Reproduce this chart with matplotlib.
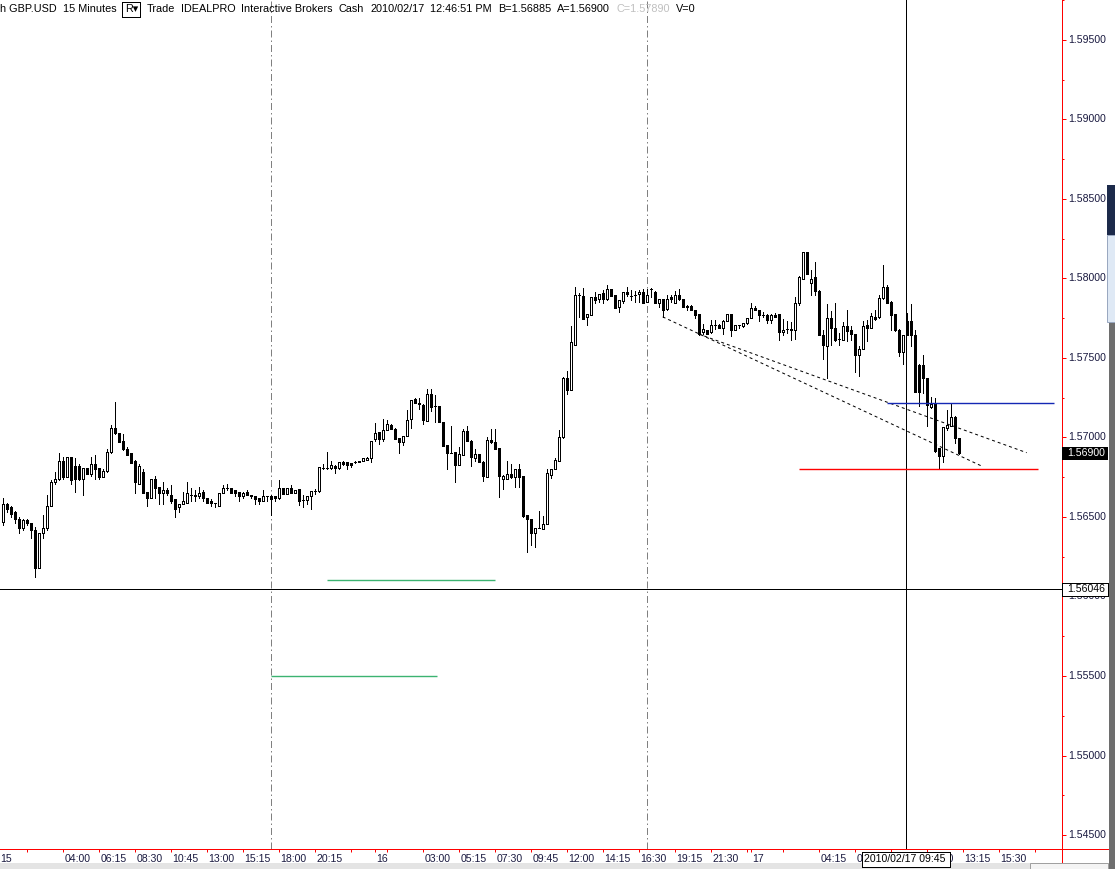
import matplotlib
matplotlib.use("Agg")
import matplotlib.pyplot as plt
from matplotlib.patches import Rectangle
from matplotlib.collections import PatchCollection
from matplotlib.lines import Line2D
import matplotlib.transforms as mtransforms

plt.rcParams['font.family'] = ['Liberation Sans', 'DejaVu Sans']

# ---------------- data (GBP.USD, 15-minute bars) ----------------
OPEN = [
    1.5647, 1.5658, 1.5656, 1.5653, 1.5649, 1.5643, 1.5648, 1.5646, 1.5642, 1.5618,
    1.5640, 1.5643, 1.5657, 1.5672, 1.5674, 1.5685, 1.5675, 1.5688, 1.5682, 1.5682,
    1.5674, 1.5681, 1.5677, 1.5683, 1.5681, 1.5675, 1.5679, 1.5691, 1.5706, 1.5703,
    1.5698, 1.5693, 1.5690, 1.5685, 1.5671, 1.5678, 1.5666, 1.5662, 1.5674, 1.5669,
    1.5665, 1.5667, 1.5664, 1.5661, 1.5656, 1.5658, 1.5659, 1.5664, 1.5663, 1.5663,
    1.5666, 1.5662, 1.5660, 1.5659, 1.5657, 1.5665, 1.5668, 1.5668, 1.5667, 1.5666,
    1.5663, 1.5666, 1.5664, 1.5663, 1.5662, 1.5660, 1.5663, 1.5663, 1.5663, 1.5662,
    1.56681, 1.56646, 1.56681, 1.56652, 1.56673, 1.56608, 1.56608, 1.56629, 1.56662, 1.56662,
    1.56808, 1.56808, 1.56808, 1.56823, 1.56808, 1.56844, 1.56844, 1.56839, 1.56848, 1.56852,
    1.56854, 1.56858, 1.56871, 1.56989, 1.57031, 1.56989, 1.57048, 1.57081, 1.57056, 1.56996,
    1.56973, 1.57010, 1.57114, 1.57239, 1.57208, 1.57206, 1.57104, 1.57273, 1.57196, 1.57198,
    1.57098, 1.56952, 1.56902, 1.56906, 1.56827, 1.56891, 1.57041, 1.56979, 1.56871, 1.56896,
    1.56848, 1.56752, 1.56985, 1.56973, 1.56931, 1.56739, 1.56739, 1.56769, 1.56752, 1.56802,
    1.56756, 1.56510, 1.56485, 1.56402, 1.56431, 1.56427, 1.56458, 1.56766, 1.56802, 1.56854,
    1.57000, 1.57375, 1.57298, 1.57583, 1.57894, 1.57889, 1.57754, 1.57771, 1.57881, 1.57869,
    1.57906, 1.57869, 1.57931, 1.57896, 1.57823, 1.57860, 1.57916, 1.57891, 1.57898, 1.57900,
    1.57916, 1.57852, 1.57931, 1.57916, 1.57848, 1.57869, 1.57806, 1.57881, 1.57848, 1.57896,
    1.57869, 1.57829, 1.57825, 1.57802, 1.57775, 1.57660, 1.57673, 1.57660, 1.57704, 1.57708,
    1.57687, 1.57735, 1.57775, 1.57677, 1.57704, 1.57698, 1.57719, 1.57750, 1.57816, 1.57798,
    1.57771, 1.57771, 1.57739, 1.57771, 1.57775, 1.57660, 1.57683, 1.57681, 1.57677, 1.57848,
    1.57996, 1.58166, 1.57973, 1.58006, 1.57923, 1.57646, 1.57573, 1.57750, 1.57687, 1.57619,
    1.57614, 1.57698, 1.57673, 1.57650, 1.57521, 1.57558, 1.57708, 1.57691, 1.57760, 1.57754,
    1.57875, 1.57944, 1.57854, 1.57775, 1.57677, 1.57535, 1.57729, 1.57735, 1.57646, 1.57454,
    1.57454, 1.57371, 1.57194, 1.57212, 1.56931, 1.56885, 1.57062, 1.57073, 1.57131, 1.56996,
]
HIGH = [
    1.5662, 1.5659, 1.5657, 1.5654, 1.5650, 1.5649, 1.5649, 1.5646, 1.5644, 1.5640,
    1.5651, 1.5664, 1.5673, 1.5678, 1.5690, 1.5688, 1.5688, 1.5688, 1.5687, 1.5683,
    1.5681, 1.5681, 1.5688, 1.5689, 1.5681, 1.5680, 1.5693, 1.5708, 1.5722, 1.5703,
    1.5702, 1.5694, 1.5690, 1.5686, 1.5683, 1.5680, 1.5666, 1.5674, 1.5676, 1.5669,
    1.5672, 1.5668, 1.5670, 1.5661, 1.5658, 1.5666, 1.5672, 1.5668, 1.5667, 1.5669,
    1.5667, 1.5662, 1.5661, 1.5659, 1.5665, 1.5670, 1.5671, 1.5668, 1.5667, 1.5666,
    1.5666, 1.5667, 1.5664, 1.5663, 1.5662, 1.5667, 1.5663, 1.5664, 1.5663, 1.5673,
    1.56685, 1.56685, 1.56698, 1.56672, 1.56675, 1.56635, 1.56630, 1.56662, 1.56677, 1.56816,
    1.56831, 1.56906, 1.56854, 1.56825, 1.56848, 1.56854, 1.56846, 1.56842, 1.56854, 1.56854,
    1.56870, 1.56875, 1.56980, 1.57091, 1.57033, 1.57114, 1.57110, 1.57085, 1.57058, 1.56998,
    1.57012, 1.57173, 1.57236, 1.57250, 1.57250, 1.57208, 1.57306, 1.57306, 1.57264, 1.57200,
    1.57100, 1.56954, 1.57073, 1.56908, 1.56937, 1.57052, 1.57069, 1.56981, 1.56927, 1.56898,
    1.56850, 1.57000, 1.57052, 1.57052, 1.56933, 1.56762, 1.56854, 1.56833, 1.56804, 1.56833,
    1.56758, 1.56512, 1.56487, 1.56433, 1.56535, 1.56506, 1.56802, 1.56804, 1.56869, 1.57048,
    1.57377, 1.57416, 1.57698, 1.57948, 1.57906, 1.57937, 1.57777, 1.57883, 1.57916, 1.57902,
    1.57927, 1.57958, 1.57933, 1.57898, 1.57866, 1.57914, 1.57948, 1.57927, 1.57923, 1.57927,
    1.57931, 1.57933, 1.57937, 1.57918, 1.57870, 1.57870, 1.57896, 1.57896, 1.57923, 1.57931,
    1.57870, 1.57833, 1.57833, 1.57804, 1.57777, 1.57714, 1.57675, 1.57739, 1.57739, 1.57710,
    1.57737, 1.57777, 1.57777, 1.57706, 1.57706, 1.57720, 1.57752, 1.57848, 1.57827, 1.57800,
    1.57791, 1.57773, 1.57773, 1.57785, 1.57777, 1.57744, 1.57729, 1.57723, 1.57885, 1.58012,
    1.58168, 1.58168, 1.58052, 1.58104, 1.57925, 1.57677, 1.57837, 1.57796, 1.57844, 1.57656,
    1.57723, 1.57798, 1.57698, 1.57652, 1.57573, 1.57729, 1.57739, 1.57781, 1.57802, 1.57896,
    1.58087, 1.57958, 1.57856, 1.57777, 1.57679, 1.57643, 1.57780, 1.57839, 1.57677, 1.57460,
    1.57521, 1.57373, 1.57254, 1.57250, 1.56933, 1.57068, 1.57171, 1.57219, 1.57133, 1.56998,
]
LOW = [
    1.5645, 1.5653, 1.5650, 1.5646, 1.5640, 1.5642, 1.5645, 1.5637, 1.5612, 1.5618,
    1.5637, 1.5642, 1.5657, 1.5671, 1.5673, 1.5674, 1.5675, 1.5671, 1.5666, 1.5673,
    1.5664, 1.5677, 1.5676, 1.5674, 1.5674, 1.5675, 1.5678, 1.5690, 1.5702, 1.5697,
    1.5692, 1.5689, 1.5684, 1.5665, 1.5671, 1.5665, 1.5657, 1.5662, 1.5662, 1.5658,
    1.5658, 1.5664, 1.5659, 1.5650, 1.5653, 1.5658, 1.5659, 1.5660, 1.5660, 1.5662,
    1.5660, 1.5659, 1.5657, 1.5656, 1.5657, 1.5665, 1.5667, 1.5665, 1.5663, 1.5660,
    1.5662, 1.5664, 1.5662, 1.5658, 1.5658, 1.5660, 1.5660, 1.5651, 1.5660, 1.5661,
    1.56642, 1.56642, 1.56652, 1.56648, 1.56573, 1.56562, 1.56583, 1.56552, 1.56646, 1.56660,
    1.56804, 1.56804, 1.56804, 1.56775, 1.56804, 1.56827, 1.56802, 1.56814, 1.56839, 1.56844,
    1.56852, 1.56856, 1.56844, 1.56979, 1.56958, 1.56979, 1.57046, 1.57054, 1.56987, 1.56902,
    1.56954, 1.57008, 1.57062, 1.57217, 1.57177, 1.57083, 1.57102, 1.57166, 1.57098, 1.57096,
    1.56946, 1.56802, 1.56900, 1.56719, 1.56825, 1.56889, 1.56977, 1.56823, 1.56854, 1.56846,
    1.56723, 1.56750, 1.56966, 1.56925, 1.56625, 1.56677, 1.56737, 1.56748, 1.56687, 1.56687,
    1.56502, 1.56281, 1.56323, 1.56312, 1.56429, 1.56425, 1.56456, 1.56744, 1.56800, 1.56852,
    1.56998, 1.57271, 1.57296, 1.57581, 1.57760, 1.57744, 1.57708, 1.57769, 1.57844, 1.57854,
    1.57848, 1.57866, 1.57887, 1.57814, 1.57787, 1.57848, 1.57889, 1.57864, 1.57854, 1.57854,
    1.57846, 1.57850, 1.57885, 1.57846, 1.57823, 1.57760, 1.57804, 1.57854, 1.57846, 1.57866,
    1.57821, 1.57802, 1.57798, 1.57750, 1.57646, 1.57652, 1.57650, 1.57658, 1.57681, 1.57689,
    1.57650, 1.57733, 1.57639, 1.57675, 1.57687, 1.57696, 1.57716, 1.57748, 1.57800, 1.57729,
    1.57756, 1.57719, 1.57719, 1.57758, 1.57614, 1.57646, 1.57656, 1.57614, 1.57619, 1.57833,
    1.57994, 1.58025, 1.57896, 1.57896, 1.57644, 1.57496, 1.57371, 1.57583, 1.57604, 1.57583,
    1.57610, 1.57604, 1.57610, 1.57410, 1.57389, 1.57556, 1.57604, 1.57689, 1.57739, 1.57752,
    1.57873, 1.57844, 1.57673, 1.57671, 1.57510, 1.57464, 1.57644, 1.57573, 1.57283, 1.57198,
    1.57281, 1.57073, 1.57183, 1.56906, 1.56806, 1.56844, 1.57048, 1.57071, 1.56964, 1.56896,
]
CLOSE = [
    1.5658, 1.5655, 1.5652, 1.5649, 1.5643, 1.5648, 1.5646, 1.5642, 1.5618, 1.5640,
    1.5643, 1.5657, 1.5672, 1.5674, 1.5685, 1.5675, 1.5688, 1.5673, 1.5674, 1.5674,
    1.5681, 1.5677, 1.5683, 1.5680, 1.5675, 1.5679, 1.5691, 1.5706, 1.5703, 1.5697,
    1.5693, 1.5689, 1.5684, 1.5672, 1.5682, 1.5665, 1.5662, 1.5674, 1.5668, 1.5665,
    1.5667, 1.5665, 1.5660, 1.5655, 1.5658, 1.5660, 1.5665, 1.5664, 1.5664, 1.5665,
    1.5662, 1.5659, 1.5659, 1.5659, 1.5665, 1.5668, 1.5668, 1.5665, 1.5665, 1.5663,
    1.5665, 1.5664, 1.5663, 1.5661, 1.5660, 1.5663, 1.5663, 1.5661, 1.5662, 1.5668,
    1.56646, 1.56681, 1.56652, 1.56669, 1.56598, 1.56608, 1.56629, 1.56662, 1.56662, 1.56816,
    1.56808, 1.56808, 1.56829, 1.56808, 1.56844, 1.56835, 1.56827, 1.56829, 1.56848, 1.56846,
    1.56869, 1.56873, 1.56979, 1.57029, 1.56989, 1.57048, 1.57085, 1.57056, 1.56989, 1.56973,
    1.57010, 1.57110, 1.57235, 1.57219, 1.57214, 1.57108, 1.57271, 1.57191, 1.57196, 1.57098,
    1.56948, 1.56902, 1.56902, 1.56827, 1.56896, 1.57041, 1.56979, 1.56875, 1.56896, 1.56848,
    1.56756, 1.56985, 1.56969, 1.56927, 1.56756, 1.56760, 1.56769, 1.56750, 1.56802, 1.56754,
    1.56504, 1.56485, 1.56402, 1.56431, 1.56431, 1.56458, 1.56775, 1.56802, 1.56860, 1.57000,
    1.57375, 1.57298, 1.57598, 1.57896, 1.57894, 1.57746, 1.57775, 1.57881, 1.57864, 1.57900,
    1.57869, 1.57931, 1.57889, 1.57816, 1.57864, 1.57912, 1.57900, 1.57891, 1.57898, 1.57912,
    1.57848, 1.57898, 1.57931, 1.57848, 1.57869, 1.57802, 1.57869, 1.57869, 1.57896, 1.57869,
    1.57823, 1.57819, 1.57802, 1.57771, 1.57650, 1.57681, 1.57652, 1.57708, 1.57704, 1.57691,
    1.57735, 1.57775, 1.57673, 1.57704, 1.57704, 1.57719, 1.57750, 1.57816, 1.57802, 1.57771,
    1.57771, 1.57739, 1.57771, 1.57760, 1.57660, 1.57677, 1.57683, 1.57673, 1.57848, 1.58010,
    1.58166, 1.58027, 1.57996, 1.57923, 1.57646, 1.57583, 1.57750, 1.57687, 1.57610, 1.57619,
    1.57698, 1.57671, 1.57650, 1.57521, 1.57556, 1.57698, 1.57691, 1.57764, 1.57746, 1.57879,
    1.57944, 1.57848, 1.57771, 1.57673, 1.57535, 1.57641, 1.57646, 1.57646, 1.57285, 1.57285,
    1.57371, 1.57204, 1.57212, 1.56916, 1.56885, 1.57066, 1.57077, 1.57131, 1.56996, 1.56902,
]

# x-axis ticks (bar index) and their labels
TICK_BARS = [6, 15, 24, 33, 42, 51, 60, 69, 78, 87, 93, 96, 105, 114, 123, 132,
             141, 150, 159, 168, 177, 186, 187, 195, 204, 213, 222, 231, 240, 249, 258]
TICK_LABELS = ['', '04:00', '06:15', '08:30', '10:45', '13:00', '15:15', '18:00', '20:15',
               '', '16', '', '03:00', '05:15', '07:30', '09:45', '12:00', '14:15', '16:30',
               '19:15', '21:30', '', '17', '', '04:15', '06:30', '', '11:00', '13:15',
               '15:30', '']
FIRST_DAY_LABEL = '15'
PRICE_TICKS = [1.545, 1.550, 1.555, 1.560, 1.565, 1.570, 1.575, 1.580, 1.585, 1.590, 1.595]

# session separators (bar index)
SEPARATOR_BARS = [67, 161]

# horizontal drawing levels: price, start bar, end bar
LEVEL_PRICES = [1.56102, 1.55500, 1.57218, 1.56800]
LEVEL_START = [81, 67, 221, 199]
LEVEL_END = [123, 108.6, 262.8, 258.8]
LEVEL_COLORS = ['#3cb371', '#3cb371', '#1428b4', '#ff0000']

# dashed trend lines: (bar0, price0) -> (bar1, price1)
TREND_X0 = [165, 174]
TREND_P0 = [1.57758, 1.57650]
TREND_X1 = [245, 256]
TREND_P1 = [1.56817, 1.56904]

# crosshair
CROSS_BAR = 225.8
CROSS_PRICE = 1.56046
CROSS_TIME = '2010/02/17 09:45'
LAST_PRICE = 1.56900

HEADER_BEFORE = ['h GBP.USD', '15 Minutes']
HEADER_AFTER = ['Trade', 'IDEALPRO', 'Interactive Brokers', 'Cash', '2010/02/17',
                '12:46:51 PM', 'B=1.56885', 'A=1.56900', 'C=1.57890', 'V=0']

# ---------------- figure ----------------
W, H, DPI = 1115, 869, 100
PX = 72.0 / DPI  # one pixel in points
fig = plt.figure(figsize=(W / DPI, H / DPI), dpi=DPI)
fig.patch.set_facecolor('white')

AX_RIGHT = 1061.5
AX_BOTTOM = 19.7   # from figure bottom, pixels
ax = fig.add_axes([0, AX_BOTTOM / H, AX_RIGHT / W, 1 - AX_BOTTOM / H])
ax.set_facecolor('white')
for s in ax.spines.values():
    s.set_visible(False)

n = len(OPEN)
xs = list(range(n))
ax.set_xlim(-0.675, (AX_RIGHT - 2.7) / 4.0)
ax.set_ylim(1.544107, 1.597122)

# wicks
ax.vlines(xs, LOW, HIGH, colors='black', linewidth=PX, antialiased=False, zorder=2)
# bodies
bw = 0.5
up_rects, dn_rects = [], []
for i in range(n):
    o, c = OPEN[i], CLOSE[i]
    r = Rectangle((i - bw / 2, min(o, c)), bw, abs(c - o))
    (up_rects if c >= o else dn_rects).append(r)
ax.add_collection(PatchCollection(up_rects, facecolor='white', edgecolor='black',
                                  linewidth=PX, antialiased=False, zorder=3))
ax.add_collection(PatchCollection(dn_rects, facecolor='black', edgecolor='black',
                                  linewidth=PX, antialiased=False, zorder=3))

# separators
for b in SEPARATOR_BARS:
    ax.axvline(b, color='#808080', linewidth=PX, dashes=(7, 3, 1.5, 3), zorder=1)

# levels
for p, x0, x1, col in zip(LEVEL_PRICES, LEVEL_START, LEVEL_END, LEVEL_COLORS):
    ax.plot([x0, x1], [p, p], color=col, linewidth=1.0, solid_capstyle='butt', zorder=6)

# trend lines
for x0, p0, x1, p1 in zip(TREND_X0, TREND_P0, TREND_X1, TREND_P1):
    ax.plot([x0, x1], [p0, p1], color='black', linewidth=PX, dashes=(3, 3), zorder=4)

# crosshair
ax.axvline(CROSS_BAR, color='black', linewidth=PX, antialiased=False, zorder=5)
ax.axhline(CROSS_PRICE, color='black', linewidth=PX, antialiased=False, zorder=5)

# axis ticks
LABEL_COLOR = '#1a1a40'
FS = 7.6
ax.set_xticks(TICK_BARS)
ax.tick_params(axis='x', which='major', direction='out', length=3 * PX, width=PX,
               color='red', labelbottom=False)
ax.yaxis.tick_right()
ax.set_yticks(PRICE_TICKS)
ax.set_yticks([p + 0.0025 for p in PRICE_TICKS], minor=True)
ax.set_yticklabels(['%.5f' % p for p in PRICE_TICKS])
ax.tick_params(axis='y', which='major', direction='out', length=4 * PX, width=PX,
               color='red', pad=2.5 * PX, labelsize=FS, labelcolor=LABEL_COLOR)
ax.tick_params(axis='y', which='minor', direction='out', length=2 * PX, width=PX, color='red')
for lab in ax.get_yticklabels():
    lab.set_va('center')

ID = mtransforms.IdentityTransform()

# red axis lines extending to the frame edges
fig.add_artist(Line2D([0, 1108], [AX_BOTTOM, AX_BOTTOM], color='red', linewidth=PX,
                      transform=ID, antialiased=False, zorder=6))
fig.add_artist(Line2D([AX_RIGHT, AX_RIGHT], [0, H], color='red', linewidth=PX,
                      transform=ID, antialiased=False, zorder=6))

fig.canvas.draw()
renderer = fig.canvas.get_renderer()
tdata = ax.transData

def xpix(b):
    return tdata.transform((b, 1.56))[0]

def ypix(p):
    return tdata.transform((0, p))[1]

# crosshair time box
BOX_X0, BOX_X1 = 862.3, 950.0
fig.add_artist(Rectangle((BOX_X0, 2.5), BOX_X1 - BOX_X0, 15, transform=ID, facecolor='white',
                         edgecolor='black', linewidth=PX, antialiased=False, zorder=7))
fig.text(864, 10, CROSS_TIME, transform=ID, ha='left', va='center',
         fontsize=FS, color='black', zorder=8)

# x tick labels, left aligned just after each tick (partly hidden behind the time box)
LABEL_Y = H - 858.5
for b, lab in zip(TICK_BARS, TICK_LABELS):
    if not lab:
        continue
    x = xpix(b) + 2
    t = fig.text(x, LABEL_Y, lab, transform=ID, ha='left', va='center',
                 fontsize=FS, color=LABEL_COLOR, zorder=5)
    ext = t.get_window_extent(renderer)
    if ext.x1 > BOX_X0 and ext.x0 < BOX_X1:
        if ext.x0 < BOX_X0:
            clip = mtransforms.Bbox.from_extents(0, 0, BOX_X0, 20)
        else:
            clip = mtransforms.Bbox.from_extents(BOX_X1, 0, W, 20)
        t.set_clip_box(clip)
        t.set_clip_on(True)
fig.text(0, LABEL_Y, FIRST_DAY_LABEL, transform=ID, ha='left', va='center',
         fontsize=FS, color=LABEL_COLOR, zorder=5)

# last price box
yl = ypix(LAST_PRICE)
fig.add_artist(Rectangle((1062, yl - 6.5), 46, 13, transform=ID, facecolor='black',
                         edgecolor='black', linewidth=0, zorder=7))
fig.text(1067, yl, '%.5f' % LAST_PRICE, transform=ID, ha='left', va='center',
         fontsize=FS, color='white', zorder=8)

# crosshair price box (it covers the upper part of the 1.56000 label)
yc = ypix(CROSS_PRICE)
fig.add_artist(Rectangle((1062, yc - 6.5), 46, 13, transform=ID, facecolor='white',
                         edgecolor='black', linewidth=PX, antialiased=False, zorder=7))
fig.text(1067, yc, '%.5f' % CROSS_PRICE, transform=ID, ha='left', va='center',
         fontsize=FS, color='black', zorder=8)
for lab in ax.get_yticklabels():
    if abs(lab.get_position()[1] - 1.560) < 1e-6:
        lab.set_clip_box(mtransforms.Bbox.from_extents(1050, 0, W, yc - 6.5))
        lab.set_clip_on(True)

# header, laid out left to right
HY = H - 9.5
HFS = 7.8
GAP = 6.0
x = 0.0
def put(txt, x, col='black'):
    t = fig.text(x, HY, txt, transform=ID, ha='left', va='center', fontsize=HFS,
                 color=col, zorder=8)
    return x + t.get_window_extent(renderer).width + GAP
for txt in HEADER_BEFORE:
    x = put(txt, x)
# R button
fig.add_artist(Rectangle((x, H - 17), 18, 15, transform=ID, facecolor='white',
                         edgecolor='black', linewidth=PX, antialiased=False, zorder=7))
fig.text(x + 2.5, HY, 'R\u25be', transform=ID, ha='left', va='center', fontsize=HFS,
         color='black', zorder=8)
x += 18 + GAP
for txt in HEADER_AFTER:
    x = put(txt, x, '#c0c0c0' if txt.startswith('C=') else 'black')

# window chrome at the edges
fig.add_artist(Rectangle((0, 0), 1030, 6, transform=ID, facecolor='#e4e4e4',
                         linewidth=0, zorder=6.5))
fig.add_artist(Rectangle((1030, 0), 78, 6, transform=ID, facecolor='#f4f4f4',
                         edgecolor='#a0a0a0', linewidth=PX, zorder=6.5))
fig.add_artist(Rectangle((1108.5, 0), 7, H - 322, transform=ID, facecolor='#6e6e6e',
                         linewidth=0, zorder=6.5))
fig.add_artist(Rectangle((1107, H - 322), 8, 87, transform=ID, facecolor='#dfe9f5',
                         edgecolor='#9aa8c0', linewidth=PX, zorder=6.5))
fig.add_artist(Rectangle((1107, H - 235), 8, 50, transform=ID, facecolor='#1c2a4a',
                         linewidth=0, zorder=6.5))

fig.savefig('out.png', dpi=DPI, facecolor='white')
